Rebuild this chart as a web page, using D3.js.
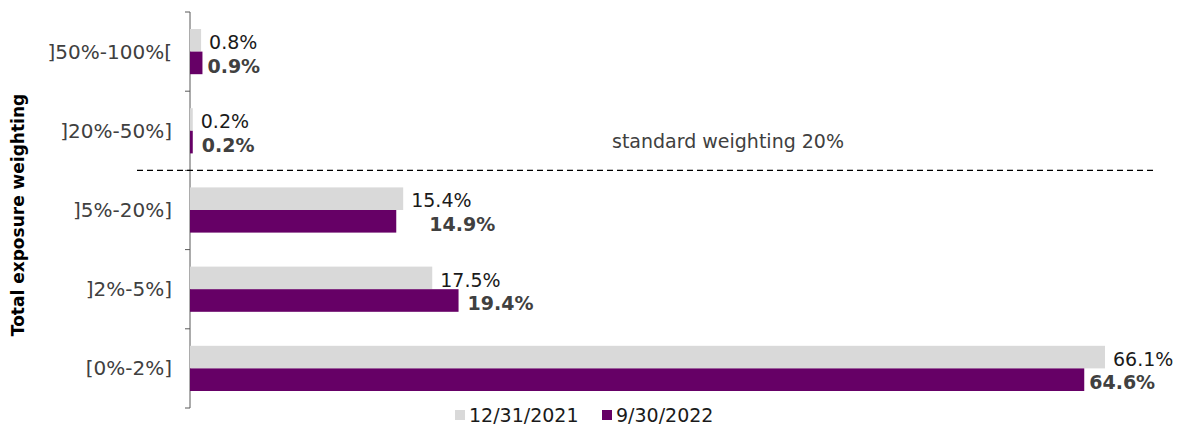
<!DOCTYPE html>
<html>
<head>
<meta charset="utf-8">
<script src="https://cdn.jsdelivr.net/npm/d3@7"></script>
<style>
  body { margin: 0; background: #fff; }
  svg { font-family: "DejaVu Sans", Verdana, sans-serif; }
</style>
</head>
<body>
<div class="visual"></div>
<script>
'use strict';
// data
const categories = [']50%-100%[', ']20%-50%]', ']5%-20%]', ']2%-5%]', '[0%-2%]'];
const seriesNames = ['12/31/2021', '9/30/2022'];
const values2021 = [0.8, 0.2, 15.4, 17.5, 66.1];
const values2022 = [0.9, 0.2, 14.9, 19.4, 64.6];
const thresholdLabel = 'standard weighting 20%';

// layout tweaks for the hand-placed labels of the second series
const nudge2022 = [0, 4, 28, 4, 0];

const W = 1184, H = 425;
const colors = ['#d9d9d9', '#660066'];

let svg = d3.select('.visual').append('svg').attr('width', W).attr('height', H);

let x = d3.scaleLinear().domain([0, 70]).range([190, 1159]);
let y = d3.scaleBand().domain(categories).range([12, 408]);
let sub = d3.scaleBand().domain(seriesNames).range([17, y.bandwidth() - 17]);

// axis
let gAxis = svg.append('g').attr('transform', 'translate(190,0)');
gAxis.append('line').attr('y1', y.range()[0]).attr('y2', y.range()[1]).attr('stroke', '#595959');
let bounds = categories.map(c => y(c)).concat([y.range()[1]]);
gAxis.selectAll('.tk').data(bounds).enter().append('line')
    .attr('x1', -5).attr('x2', 0).attr('y1', d => d).attr('y2', d => d).attr('stroke', '#595959');

// category labels
svg.selectAll('.cat').data(categories).enter().append('text')
    .attr('x', 172).attr('y', d => y(d) + y.bandwidth() / 2).attr('dy', '0.35em')
    .attr('text-anchor', 'end').attr('font-size', 20).attr('fill', '#404040')
    .text(d => d);

// axis title
svg.append('text').attr('transform', 'translate(24,' + 215 + ') rotate(-90)')
    .attr('text-anchor', 'middle').attr('font-size', 17).attr('font-weight', 'bold').attr('fill', '#000')
    .text('Total exposure weighting');

// bars
let series = [values2021, values2022];
series.forEach((vals, s) => {
    svg.selectAll('.bar' + s).data(vals).enter().append('rect')
        .attr('x', x(0))
        .attr('y', (d, i) => y(categories[i]) + sub(seriesNames[s]))
        .attr('width', d => x(d) - x(0))
        .attr('height', sub.bandwidth())
        .attr('fill', colors[s]);
});

// value labels
svg.selectAll('.lab0').data(values2021).enter().append('text')
    .attr('x', d => x(d) + 8)
    .attr('y', (d, i) => y(categories[i]) + sub(seriesNames[0]) + sub.bandwidth() / 2 + 2)
    .attr('dy', '0.35em').attr('font-size', 19).attr('fill', '#1a1a1a')
    .text(d => d3.format('.1f')(d) + '%');
svg.selectAll('.lab1').data(values2022).enter().append('text')
    .attr('x', (d, i) => x(d) + 5 + nudge2022[i])
    .attr('y', (d, i) => y(categories[i]) + sub(seriesNames[1]) + sub.bandwidth() / 2 + 3)
    .attr('dy', '0.35em').attr('font-size', 19).attr('font-weight', 'bold').attr('fill', '#404040')
    .text(d => d3.format('.1f')(d) + '%');

// standard weighting threshold line
let yLine = y(categories[2]);
svg.append('line').attr('x1', 137).attr('x2', 1157).attr('y1', yLine).attr('y2', yLine)
    .attr('stroke', '#000').attr('stroke-width', 1.2).attr('stroke-dasharray', '6,4');
svg.append('text').attr('x', 728).attr('y', yLine - 29).attr('dy', '0.35em')
    .attr('text-anchor', 'middle').attr('font-size', 19).attr('fill', '#404040')
    .text(thresholdLabel);

// legend
let legendX = [455, 602];
let leg = svg.selectAll('.leg').data(seriesNames).enter().append('g')
    .attr('transform', (d, i) => 'translate(' + legendX[i] + ',0)');
leg.append('rect').attr('x', 0).attr('y', 410).attr('width', 10).attr('height', 10)
    .attr('fill', (d, i) => colors[i]);
leg.append('text').attr('x', 14).attr('y', 415).attr('dy', '0.35em')
    .attr('font-size', 19).attr('fill', '#1a1a1a').text(d => d);
</script>
</body>
</html>
